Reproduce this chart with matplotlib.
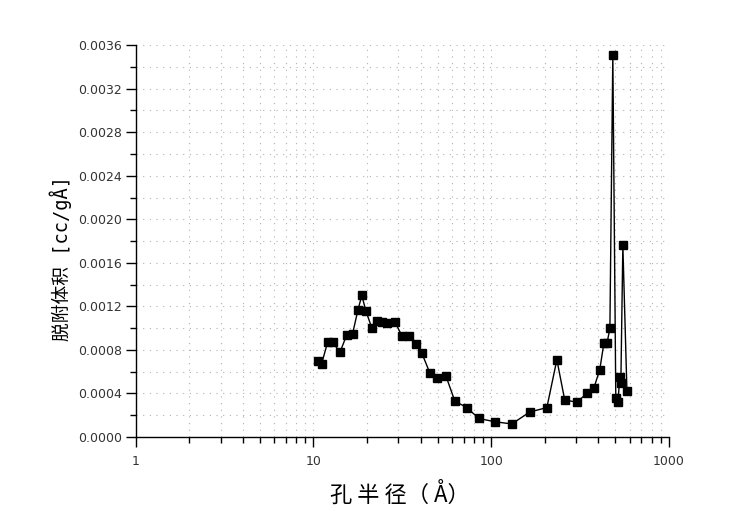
import matplotlib
matplotlib.use("Agg")
import matplotlib.pyplot as plt
from matplotlib.ticker import LogLocator, FixedLocator, MultipleLocator, FuncFormatter, NullFormatter

radius = [10.6, 11.1, 12.0, 12.8, 14.1, 15.4, 16.6, 17.8, 18.7, 19.7, 21.3, 22.7, 24.2,
          25.9, 28.7, 31.4, 34.4, 37.6, 40.7, 45.1, 49.4, 55.6,
          62.4, 72.9, 85.2, 104.8, 130.5, 164.9, 205.5,
          234, 259, 303, 345, 378, 408, 430, 448, 465, 483, 502, 516, 529, 536, 550, 580]
volume = [0.00070, 0.00067, 0.00087, 0.00087, 0.00078, 0.00094, 0.00095, 0.00117, 0.00130, 0.00116, 0.00100, 0.00107, 0.00106,
          0.00105, 0.00106, 0.00093, 0.00093, 0.00085, 0.00077, 0.00059, 0.00054, 0.00056,
          0.00033, 0.00027, 0.00017, 0.00014, 0.00012, 0.00023, 0.00027,
          0.00071, 0.00034, 0.00032, 0.00040, 0.00045, 0.00062, 0.00086, 0.00086, 0.00100, 0.00351, 0.00036, 0.00032, 0.00055, 0.00050, 0.00176, 0.00042]

x_ticks = [1, 10, 100, 1000]
x_tick_labels = ["1", "10", "100", "1000"]
y_ticks = [0.0000, 0.0004, 0.0008, 0.0012, 0.0016, 0.0020, 0.0024, 0.0028, 0.0032, 0.0036]
x_label = "孔 半 径（ Å）"
y_label = "脱附体积 [cc/gÅ]"

cjk = ['Noto Sans CJK SC', 'DejaVu Sans']
mono_cjk = ['DejaVu Sans Mono', 'Noto Sans CJK SC']
plt.rcParams['font.family'] = ['DejaVu Sans']

fig = plt.figure(figsize=(7.5, 5.19), dpi=100)
ax = fig.add_axes([0.181, 0.158, 0.711, 0.755])

ax.plot(radius, volume, color='black', linewidth=1.0, marker='s', markersize=6.3,
        markerfacecolor='black', markeredgecolor='black', zorder=3)

ax.set_xscale('log')
ax.set_xlim(1, 1000)
ax.set_ylim(0, 0.0036)

ax.xaxis.set_major_locator(FixedLocator(x_ticks))
ax.set_xticklabels(x_tick_labels)
ax.xaxis.set_minor_locator(LogLocator(base=10, subs=range(2, 10), numticks=20))
ax.xaxis.set_minor_formatter(NullFormatter())

ax.yaxis.set_major_locator(FixedLocator(y_ticks))
ax.yaxis.set_major_formatter(FuncFormatter(lambda v, p: f"{v:.4f}"))
ax.yaxis.set_minor_locator(MultipleLocator(0.0002))

ax.grid(True, which='both', linestyle=(0, (1, 5)), color='#b0b0b0', linewidth=0.8)
ax.set_axisbelow(True)

for s in ['top', 'right']:
    ax.spines[s].set_visible(False)
for s in ['left', 'bottom']:
    ax.spines[s].set_linewidth(1.0)

ax.tick_params(which='major', direction='out', length=7, width=1, labelsize=9,
               colors='black', labelcolor='#333333', pad=3)
ax.tick_params(which='minor', direction='out', length=4, width=1)
ax.tick_params(axis='x', which='major', pad=6)

ax.set_xlabel(x_label, fontsize=16, family=cjk, va='top')
ax.xaxis.set_label_coords(0.495, -0.115)
ax.set_ylabel(y_label, fontsize=13.5, family=mono_cjk)
ax.yaxis.set_label_coords(-0.12, 0.455)

fig.savefig("out.png", dpi=100)
